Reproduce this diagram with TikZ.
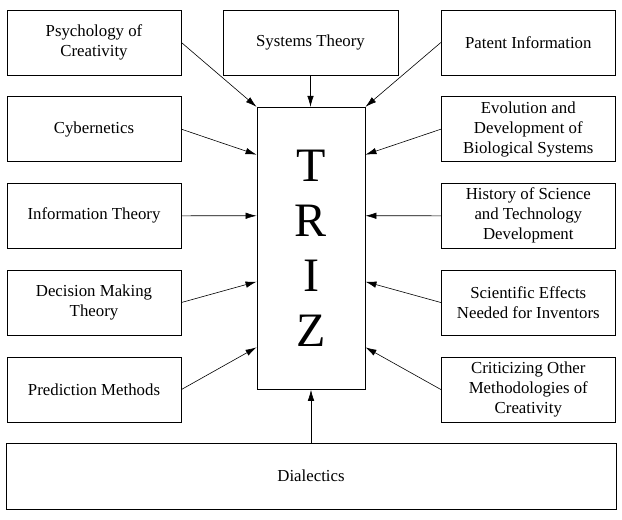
\documentclass[tikz,border=0pt]{standalone}
\usepackage{fontspec}
\setmainfont{Liberation Serif}
\usetikzlibrary{calc, arrows.meta}
\begin{document}
\begin{tikzpicture}[x=1pt, y=-1pt,
      every node/.style={font=\fontsize{16.8}{20}\selectfont},
      field/.style={draw, line width=0.9pt, align=center, inner sep=2pt,
        minimum width=174pt, minimum height=65pt},
      arrow/.style={-{Latex[length=11pt, width=6.5pt]}, line width=0.6pt},
    ]
    \useasboundingbox (0,0) rectangle (622,520);

    % Left column
    \node[field] (psych)    at (94, 42.5)  {Psychology of \\ Creativity};
    \node[field] (cyber)    at (94, 129.2) {Cybernetics};
    \node[field] (info)     at (94, 215.8) {Information Theory};
    \node[field] (decision) at (94, 302.5) {Decision Making \\ Theory};
    \node[field] (predict)  at (94, 389.5) {Prediction Methods};

    % Right column
    \node[field] (patent)    at (528.3, 42.5)  {Patent Information};
    \node[field] (evolution) at (528.3, 129.2) {Evolution and \\ Development of \\ Biological Systems};
    \node[field] (history)   at (528.3, 215.8) {History of Science \\ and Technology \\ Development};
    \node[field] (effects)   at (528.3, 302.5) {Scientific Effects \\ Needed for Inventors};
    \node[field] (critic)    at (528.3, 389.5) {Criticizing Other \\ Methodologies of \\ Creativity};

    % Top, centre and bottom
    \node[field, minimum width=175pt] (systems) at (310.5, 42.5) {Systems Theory};
    \node[field, minimum width=108pt, minimum height=282pt,
      font=\fontsize{48}{55}\selectfont] (triz) at (311, 248.3) {T \\ R \\ I \\ Z};
    \node[field, minimum width=610pt, minimum height=66pt] (dialectics) at (311, 476) {Dialectics};

    % Entry points on the TRIZ box
    \foreach \f [count=\i] in {0.169, 0.385, 0.618, 0.85} {
      \coordinate (tl\i) at ($(triz.north west)!\f!(triz.south west)$);
      \coordinate (tr\i) at ($(triz.north east)!\f!(triz.south east)$);
    }

    % Arrows from the left
    \draw[arrow] (psych.east) -- (triz.north west);
    \draw[arrow] (cyber.east) -- (tl1);
    \draw[arrow] (info.east) -- (tl2);
    \draw[arrow] (decision.east) -- (tl3);
    \draw[arrow] (predict.east) -- (tl4);

    % Arrows from the right
    \draw[arrow] (patent.west) -- (triz.north east);
    \draw[arrow] (evolution.west) -- (tr1);
    \draw[arrow] (history.west) -- (tr2);
    \draw[arrow] (effects.west) -- (tr3);
    \draw[arrow] (critic.west) -- (tr4);

    % Vertical arrows
    \draw[arrow] (systems.south) -- (systems.south |- triz.north);
    \draw[arrow] (dialectics.north -| triz.south) -- (triz.south);
  \end{tikzpicture}
\end{document}
